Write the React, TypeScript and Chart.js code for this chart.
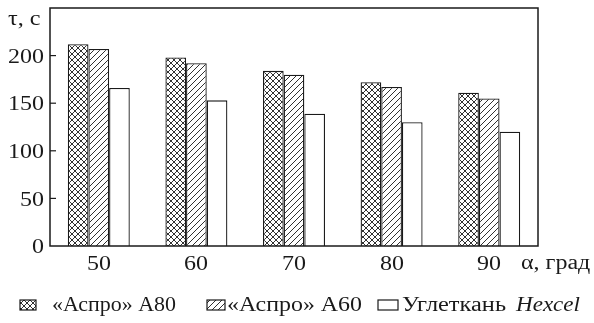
import React, { useEffect, useRef } from "react";
import { Chart, registerables } from "chart.js";

Chart.register(...registerables);

const categories = ["50", "60", "70", "80", "90"];
const aspro80 = [212, 198, 184, 172, 161];
const aspro60 = [207, 192, 180, 167, 155];
const hexcel = [166, 153, 139, 130, 120];
const yTicks = [0, 50, 100, 150, 200];
const yTitle = "τ, с";
const xTitle = "α, град";
const legendNames = ["«Аспро» А80", "«Аспро» А60", "Углеткань"];
const legendItalic = "Hexcel";

const FONT = "'Liberation Serif', 'Times New Roman', serif";
const INK = "#1a1a1a";

function makePattern(kind: "cross" | "diag" | "none"): CanvasPattern | string {
  if (kind === "none") return "#ffffff";
  const s = 6;
  const c = document.createElement("canvas");
  c.width = s;
  c.height = s;
  const g = c.getContext("2d")!;
  g.fillStyle = "#ffffff";
  g.fillRect(0, 0, s, s);
  g.strokeStyle = INK;
  g.lineWidth = 0.9;
  g.beginPath();
  g.moveTo(-1, s + 1);
  g.lineTo(s + 1, -1);
  g.moveTo(-1, 1);
  g.lineTo(1, -1);
  g.moveTo(s - 1, s + 1);
  g.lineTo(s + 1, s - 1);
  g.stroke();
  if (kind === "cross") {
    g.beginPath();
    g.moveTo(-1, -1);
    g.lineTo(s + 1, s + 1);
    g.moveTo(s - 1, -1);
    g.lineTo(s + 1, 1);
    g.moveTo(-1, s - 1);
    g.lineTo(1, s + 1);
    g.stroke();
  }
  const p = g.createPattern(c, "repeat");
  return p || "#ffffff";
}

let measureCtx: CanvasRenderingContext2D | null = null;
function measure(s: string, size: number, italic: boolean): number {
  if (!measureCtx) measureCtx = document.createElement("canvas").getContext("2d");
  measureCtx!.font = (italic ? "italic " : "") + size + "px " + FONT;
  return measureCtx!.measureText(s).width;
}

// place a DOM text label; y is the baseline
function label(
  host: HTMLElement,
  s: string,
  x: number,
  y: number,
  size: number,
  sx: number,
  align: "left" | "right" | "center",
  italic = false,
  width = 0
) {
  const k = width > 0 ? width / measure(s, size, italic) : sx;
  const el = document.createElement("div");
  el.textContent = s;
  const st = el.style;
  st.position = "absolute";
  st.whiteSpace = "nowrap";
  st.fontFamily = FONT;
  st.fontSize = size + "px";
  st.lineHeight = size + "px";
  st.fontStyle = italic ? "italic" : "normal";
  st.color = INK;
  st.top = y - size * 0.84 + "px";
  if (align === "left") {
    st.left = x + "px";
    st.transformOrigin = "left center";
    st.transform = `scaleX(${k})`;
  } else if (align === "right") {
    st.right = 594 - x + "px";
    st.transformOrigin = "right center";
    st.transform = `scaleX(${k})`;
  } else {
    st.left = x + "px";
    st.transformOrigin = "left center";
    st.transform = `scaleX(${k}) translateX(-50%)`;
  }
  host.appendChild(el);
}

const framePlugin = {
  id: "frame",
  afterDraw(chart: any) {
    const ctx: CanvasRenderingContext2D = chart.ctx;
    const a = chart.chartArea;
    const ys = chart.scales.y;
    ctx.save();
    ctx.strokeStyle = INK;
    ctx.lineWidth = 1.5;
    ctx.strokeRect(a.left, a.top, a.right - a.left, a.bottom - a.top);
    ctx.lineWidth = 1.2;
    yTicks.forEach((v) => {
      if (v === 0) return;
      const py = ys.getPixelForValue(v);
      ctx.beginPath();
      ctx.moveTo(a.left, py);
      ctx.lineTo(a.left + 6, py);
      ctx.stroke();
    });
    // legend swatches
    const sw: [number, number, number][] = [
      [20, 16, 0],
      [207, 18, 1],
      [378, 20, 2],
    ];
    sw.forEach(([bx, bw, di]) => {
      ctx.fillStyle = chart.data.datasets[di].backgroundColor;
      ctx.fillRect(bx, 300, bw, 10);
      ctx.strokeStyle = INK;
      ctx.lineWidth = 1.2;
      ctx.strokeRect(bx, 300, bw, 10);
    });
    ctx.restore();
  },
};

export default function App() {
  const ref = useRef<HTMLCanvasElement | null>(null);
  const overlay = useRef<HTMLDivElement | null>(null);
  useEffect(() => {
    if (!ref.current || !overlay.current) return;
    const chart = new Chart(ref.current, {
      type: "bar",
      data: {
        labels: categories,
        datasets: [
          {
            label: legendNames[0],
            data: aspro80,
            backgroundColor: makePattern("cross") as any,
            borderColor: INK,
            borderWidth: 1.3,
          },
          {
            label: legendNames[1],
            data: aspro60,
            backgroundColor: makePattern("diag") as any,
            borderColor: INK,
            borderWidth: 1.3,
          },
          {
            label: legendNames[2] + " " + legendItalic,
            data: hexcel,
            backgroundColor: makePattern("none") as any,
            borderColor: INK,
            borderWidth: 1.3,
          },
        ],
      },
      options: {
        animation: false,
        responsive: false,
        datasets: { bar: { barPercentage: 1, categoryPercentage: 0.635 } },
        layout: { padding: { top: 8, right: 56, bottom: 47, left: 0 } },
        plugins: { legend: { display: false }, tooltip: { enabled: false } },
        scales: {
          x: {
            type: "category",
            offset: true,
            grid: { display: false, drawTicks: false },
            border: { display: false },
            ticks: { display: false },
            afterFit: (s: any) => {
              s.height = 30;
            },
          },
          y: {
            min: 0,
            max: 250,
            grid: { display: false, drawTicks: false },
            border: { display: false },
            ticks: { display: false, stepSize: 50 },
            afterFit: (s: any) => {
              s.width = 50;
            },
          },
        },
      },
      plugins: [framePlugin],
    });

    const host = overlay.current;
    host.innerHTML = "";
    const a = chart.chartArea;
    const ys: any = chart.scales.y;
    const xs: any = chart.scales.x;
    yTicks.forEach((v) => {
      label(host, String(v), a.left - 6, ys.getPixelForValue(v) + 7, 20, 1.2, "right");
    });
    categories.forEach((c, i) => {
      label(host, c, xs.getPixelForValue(i), a.bottom + 24, 20, 1.2, "center");
    });
    label(host, yTitle, 8, 26, 21, 1.15, "left");
    label(host, xTitle, 521, a.bottom + 23, 20, 1.2, "left");
    const ly = 311;
    label(host, legendNames[0], 52, ly, 20, 1, "left", false, 124);
    label(host, legendNames[1], 227, ly, 20, 1, "left", false, 135);
    label(host, legendNames[2], 402, ly, 20, 1, "left", false, 104);
    label(host, legendItalic, 516, ly, 20, 1, "left", true, 64);

    return () => {
      chart.destroy();
      host.innerHTML = "";
    };
  }, []);
  return (
    <div style={{ position: "absolute", left: 0, top: 0, width: 594, height: 323, background: "#fff", overflow: "hidden" }}>
      <canvas ref={ref} width={594} height={323} style={{ display: "block" }} />
      <div ref={overlay} style={{ position: "absolute", left: 0, top: 0, width: 594, height: 323, pointerEvents: "none" }} />
    </div>
  );
}
